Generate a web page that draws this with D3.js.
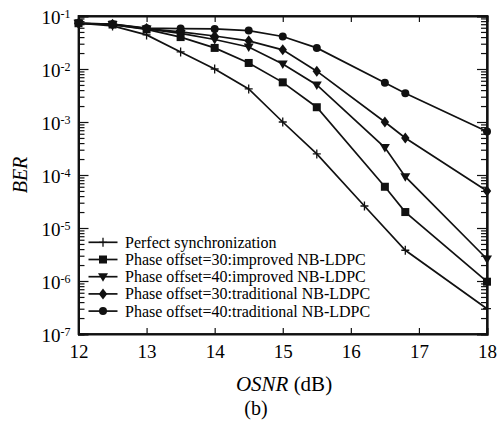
<!DOCTYPE html>
<html>
<head>
<meta charset="utf-8">
<script src="https://cdn.jsdelivr.net/npm/d3@7"></script>
<style>
  html, body { margin: 0; padding: 0; background: #fff; }
  svg { display: block; }
  svg text { font-family: "Liberation Serif", "Times New Roman", serif !important; fill: #000; }
</style>
</head>
<body>
<svg id="chart" width="501" height="421"></svg>
<script>
// ---- data ----
const xPhase = [12, 12.5, 13, 13.5, 14, 14.5, 15, 15.5, 16.5, 16.8, 18];
const xPerfect = [12, 12.5, 13, 13.5, 14, 14.5, 15, 15.5, 16.2, 16.8, 18];
const perfectSync = [0.073, 0.065, 0.044, 0.021, 0.010, 0.0042, 0.001, 2.5e-4, 2.6e-5, 3.8e-6, 3e-7];
const improved30 = [0.073, 0.069, 0.056, 0.040, 0.025, 0.013, 0.0056, 0.0019, 6e-5, 2e-5, 9.7e-7];
const improved40 = [0.073, 0.069, 0.057, 0.047, 0.036, 0.026, 0.0124, 0.005, 3.3e-4, 9.3e-5, 2.6e-6];
const traditional30 = [0.073, 0.070, 0.058, 0.050, 0.042, 0.034, 0.023, 0.0091, 1e-3, 5e-4, 5e-5];
const traditional40 = [0.073, 0.070, 0.059, 0.058, 0.057, 0.053, 0.041, 0.025, 0.0055, 0.0035, 6.6e-4];
const seriesNames = [
  "Perfect synchronization",
  "Phase offset=30:improved NB-LDPC",
  "Phase offset=40:improved NB-LDPC",
  "Phase offset=30:traditional NB-LDPC",
  "Phase offset=40:traditional NB-LDPC"
];
const xTicks = [12, 13, 14, 15, 16, 17, 18];
const yExponents = [-7, -6, -5, -4, -3, -2, -1];

// ---- layout ----
const FONT = '"Liberation Serif", "Times New Roman", serif';
const svg = d3.select("#chart");
const L = 78.5, R = 487, T = 16, B = 334;
const x = d3.scaleLinear().domain([12, 18]).range([L, R]);
const y = d3.scaleLog().domain([1e-7, 1e-1]).range([B, T]);
const ink = "#111";

const series = [
  { name: seriesNames[0], xs: xPerfect, ys: perfectSync, marker: "plus" },
  { name: seriesNames[1], xs: xPhase, ys: improved30, marker: "square" },
  { name: seriesNames[2], xs: xPhase, ys: improved40, marker: "triDown" },
  { name: seriesNames[3], xs: xPhase, ys: traditional30, marker: "diamond" },
  { name: seriesNames[4], xs: xPhase, ys: traditional40, marker: "circle" }
];

// minor tick values
const minorVals = [];
yExponents.forEach(e => {
  if (e < -1) for (let m = 2; m <= 9; m++) minorVals.push(m * Math.pow(10, e));
});
const majorVals = yExponents.map(e => Math.pow(10, e));

// axes
const gx = svg.append("g").attr("transform", `translate(0,${B})`)
  .call(d3.axisBottom(x).tickValues(xTicks).tickSize(-6).tickPadding(0).tickFormat(d3.format("d")));
gx.attr("font-family", FONT);
gx.selectAll("text").attr("y", 24).attr("dy", 0).attr("font-family", FONT).style("font-family", FONT).style("font-size", "19px");

svg.append("g").attr("transform", `translate(0,${T})`)
  .call(d3.axisTop(x).tickValues(xTicks).tickSize(-6).tickFormat(""));

svg.append("g").attr("transform", `translate(${L},0)`)
  .call(d3.axisLeft(y).tickValues(minorVals).tickSize(-6).tickFormat(""));
svg.append("g").attr("transform", `translate(${R},0)`)
  .call(d3.axisRight(y).tickValues(minorVals).tickSize(-6).tickFormat(""));
svg.append("g").attr("transform", `translate(${R},0)`)
  .call(d3.axisRight(y).tickValues(majorVals).tickSize(-10).tickFormat(""));

const gy = svg.append("g").attr("transform", `translate(${L},0)`)
  .call(d3.axisLeft(y).tickValues(majorVals).tickSize(-10).tickFormat(""));
gy.attr("font-family", FONT);
gy.selectAll(".tick").each(function(d) {
  const e = Math.round(Math.log10(d));
  const t = d3.select(this).select("text");
  t.text(null).attr("x", -8).attr("dy", 7.5).attr("text-anchor", "end")
    .attr("font-family", FONT).style("font-family", FONT).style("font-size", "19px");
  t.append("tspan").text("10");
  t.append("tspan").text(String(e)).style("font-size", "12px").attr("dy", -6);
});

svg.selectAll(".domain").attr("stroke", ink).attr("stroke-width", 1.8);
svg.selectAll(".tick line").attr("stroke", ink).attr("stroke-width", 1.2);
svg.selectAll(".tick text").attr("fill", "#000");

// frame
svg.append("rect").attr("x", L).attr("y", T).attr("width", R - L).attr("height", B - T)
  .attr("fill", "none").attr("stroke", ink).attr("stroke-width", 1.8);

// marker drawing
function drawMarker(g, type, cx, cy) {
  if (type === "plus") {
    g.append("path").attr("d", `M${cx - 4},${cy}H${cx + 4}M${cx},${cy - 4.5}V${cy + 4.5}`)
      .attr("stroke", ink).attr("stroke-width", 1.3).attr("fill", "none");
  } else if (type === "square") {
    g.append("rect").attr("x", cx - 4).attr("y", cy - 4).attr("width", 8).attr("height", 8).attr("fill", ink);
  } else if (type === "triDown") {
    g.append("path").attr("d", `M${cx - 5},${cy - 3.5}L${cx + 5},${cy - 3.5}L${cx},${cy + 5}Z`).attr("fill", ink);
  } else if (type === "diamond") {
    g.append("path").attr("d", `M${cx},${cy - 5.5}L${cx + 4.2},${cy}L${cx},${cy + 5.5}L${cx - 4.2},${cy}Z`).attr("fill", ink);
  } else if (type === "circle") {
    g.append("circle").attr("cx", cx).attr("cy", cy).attr("r", 4).attr("fill", ink);
  }
}

const line = d3.line();
const plot = svg.append("g");
series.forEach(s => {
  const pts = s.xs.map((xv, i) => [x(xv), y(s.ys[i])]);
  plot.append("path").attr("d", line(pts)).attr("fill", "none").attr("stroke", ink).attr("stroke-width", 1.7);
  pts.forEach(p => drawMarker(plot, s.marker, p[0], p[1]));
});

// legend
const leg = svg.append("g").attr("font-family", FONT);
series.forEach((s, i) => {
  const ly = 242.3 + i * 17.2;
  leg.append("line").attr("x1", 88.5).attr("x2", 117.5).attr("y1", ly).attr("y2", ly)
    .attr("stroke", ink).attr("stroke-width", 1.7);
  drawMarker(leg, s.marker, 103, ly);
  leg.append("text").attr("x", 125).attr("y", ly + 5.5).style("font-size", "16px").text(s.name);
});

// axis titles
svg.append("text").attr("x", 284).attr("y", 391).attr("text-anchor", "middle").style("font-size", "21px")
  .call(t => {
    t.append("tspan").style("font-style", "italic").text("OSNR");
    t.append("tspan").text(" (dB)");
  });
svg.append("text").attr("transform", "translate(27,175) rotate(-90)").attr("text-anchor", "middle")
  .style("font-size", "20px").style("font-style", "italic").text("BER");
svg.append("text").attr("x", 256).attr("y", 415).attr("text-anchor", "middle").style("font-size", "20px").text("(b)");
</script>
</body>
</html>
